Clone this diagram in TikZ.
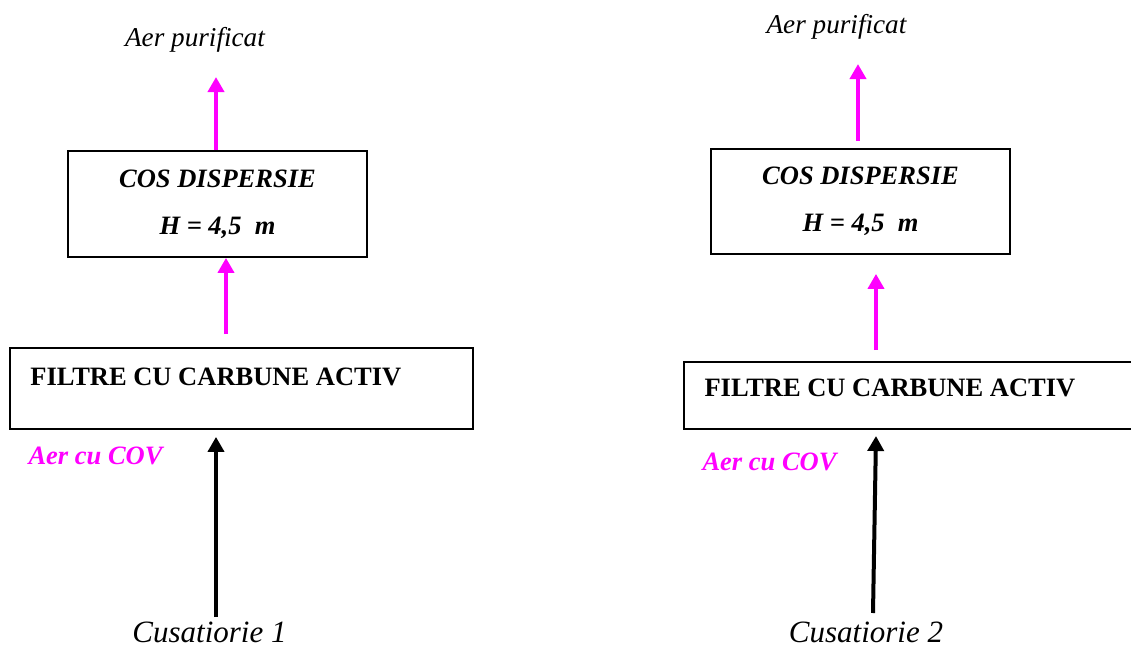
\documentclass[tikz,border=0pt]{standalone}
\usepackage{fontspec}
\setmainfont{Liberation Serif}
\usetikzlibrary{arrows.meta}
\definecolor{roz}{RGB}{255,0,255}

\begin{document}
\begin{tikzpicture}[x=.5pt,y=-.5pt,
  cutie/.style={draw,line width=.9pt,inner sep=0pt},
  sageata/.style={line width=2pt,-{Triangle[width=8pt,length=7.5pt]}},
  fluxroz/.style={sageata,draw=roz},
  fluxnegru/.style={sageata,draw=black},
  titlufiltru/.style={inner sep=0pt,anchor=west,font=\bfseries\fontsize{13.25}{15}\selectfont},
  titlucos/.style={align=center,font=\bfseries\itshape\fontsize{13.25}{23.5}\selectfont},
  aerpur/.style={inner sep=0pt,font=\itshape\fontsize{13.6}{16}\selectfont},
  aercov/.style={inner sep=0pt,text=roz,font=\bfseries\itshape\fontsize{13.25}{15}\selectfont},
  sursa/.style={inner sep=0pt,font=\itshape\fontsize{15.5}{18}\selectfont}]
\useasboundingbox (0,0) rectangle (1131,648);
% Linia 1 : filtru, cos de dispersie si aerul evacuat.
\begin{scope}
\node[cutie,titlucos,minimum width=149.5pt,minimum height=53pt] (cos1) at (217.5,204) {COS DISPERSIE\\H = 4,5\ \ m};
\node[cutie,minimum width=231.5pt,minimum height=40.5pt] (filtru1) at (241.5,388.5) {};
\node[titlufiltru] (tf1) at ([xshift=10.5pt,yshift=5.75pt]filtru1.west) {FILTRE CU CARBUNE ACTIV};
\node[aerpur] (aer1) at (195,40) {Aer purificat};
\node[aercov] (cov1) at (95.5,456) {Aer cu COV};
\node[sursa] (cus1) at (209.5,632) {Cusatiorie 1};
\coordinate (v1) at (216,77);
\coordinate (r1) at (226,334);
\coordinate (s1) at (216,617);
\draw[fluxroz] (v1 |- cos1.north) -- (v1);
\draw[fluxroz] (r1) -- (r1 |- cos1.south);
\draw[fluxnegru,shorten >=3.5pt] (s1) -- (s1 |- filtru1.south);
\end{scope}
% Linia 2 : aceeasi schema, putin decalata.
\begin{scope}
\node[cutie,titlucos,minimum width=149.5pt,minimum height=52.5pt] (cos2) at (860.5,201.5) {COS DISPERSIE\\H = 4,5\ \ m};
\node[cutie,minimum width=231.5pt,minimum height=33.5pt] (filtru2) at (915.5,395.5) {};
\node[titlufiltru] (tf2) at ([xshift=10.5pt,yshift=3.75pt]filtru2.west) {FILTRE CU CARBUNE ACTIV};
\node[aerpur] (aer2) at (836.5,27) {Aer purificat};
\node[aercov] (cov2) at (769.5,462) {Aer cu COV};
\node[sursa] (cus2) at (866,632) {Cusatiorie 2};
\coordinate (v2) at (858,64);
\coordinate (r2) at (876,350);
\coordinate (s2) at (873,613);
\coordinate (t2) at (876,436);
\draw[fluxroz,shorten <=3.5pt] (v2 |- cos2.north) -- (v2);
\draw[fluxroz,shorten >=9.5pt] (r2) -- (r2 |- cos2.south);
\draw[fluxnegru] (s2) -- (t2);
\end{scope}
\end{tikzpicture}
\end{document}
